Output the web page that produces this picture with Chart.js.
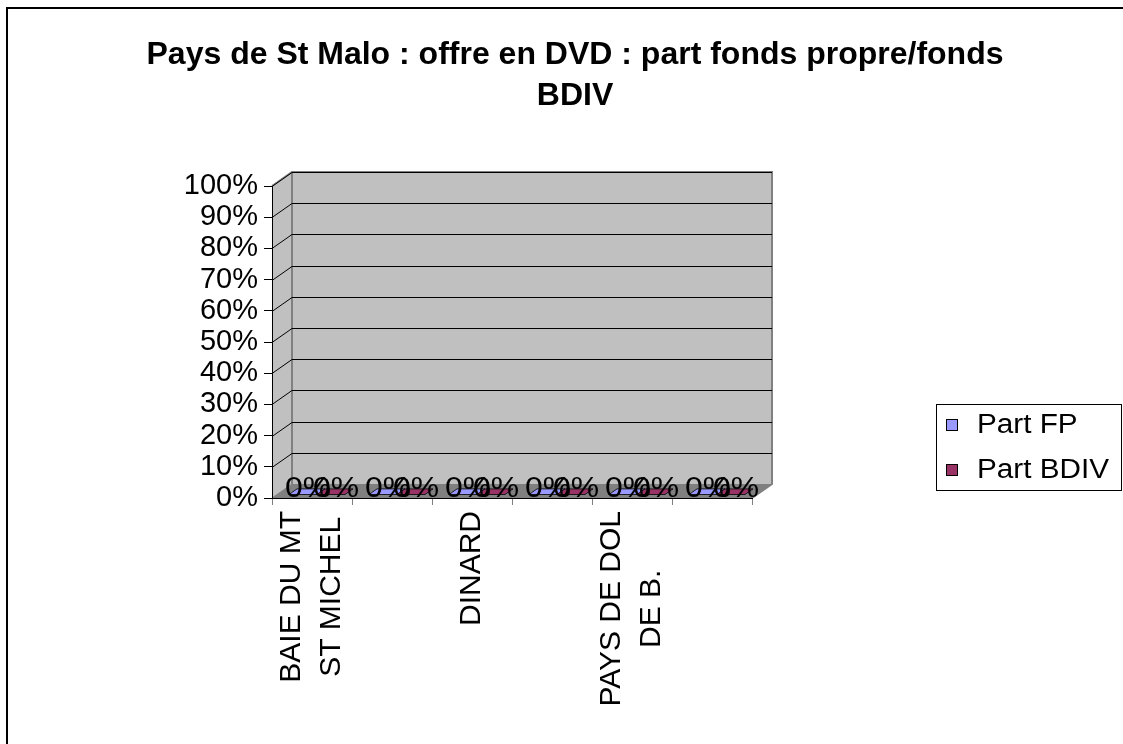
<!DOCTYPE html>
<html><head><meta charset="utf-8">
<script src="https://cdn.jsdelivr.net/npm/chart.js@4.4.0/dist/chart.umd.min.js"></script>
<style>html,body{margin:0;padding:0;background:#fff;overflow:hidden}canvas{display:block}</style>
</head><body>
<canvas id="c" width="1123" height="744"></canvas>
<script>
const titleLines = ['Pays de St Malo : offre en DVD : part fonds propre/fonds', 'BDIV'];
const categories = [['BAIE DU MT', 'ST MICHEL'], [''], ['DINARD'], [''], ['PAYS DE DOL', 'DE B.'], ['']];
const seriesNames = ['Part FP', 'Part BDIV'];
const partFP = [0, 0, 0, 0, 0, 0];
const partBDIV = [0, 0, 0, 0, 0, 0];
const yTickLabels = ['0%', '10%', '20%', '30%', '40%', '50%', '60%', '70%', '80%', '90%', '100%'];
const seriesColors = ['#9999ff', '#993366'];

const FONT = '"Liberation Sans", Arial, sans-serif';
const DX = 20, DY = 14;

function wideText(ctx, t, x, y, sx) {
  ctx.save();
  ctx.translate(x, y);
  ctx.scale(sx, 1);
  ctx.fillText(t, 0, 0);
  ctx.restore();
}

const threeD = {
  id: 'threeD',
  beforeDraw(chart) {
    const {ctx, chartArea: a, scales: {y}} = chart;
    ctx.save();
    ctx.fillStyle = '#fff';
    ctx.fillRect(0, 0, chart.width, chart.height);
    ctx.fillStyle = '#c0c0c0';
    ctx.fillRect(a.left + DX, a.top - DY, a.width, a.height);
    ctx.beginPath();
    ctx.moveTo(a.left, a.top); ctx.lineTo(a.left + DX, a.top - DY);
    ctx.lineTo(a.left + DX, a.bottom - DY); ctx.lineTo(a.left, a.bottom); ctx.closePath();
    ctx.fill();
    ctx.fillStyle = '#808080';
    ctx.beginPath();
    ctx.moveTo(a.left, a.bottom); ctx.lineTo(a.left + DX, a.bottom - DY);
    ctx.lineTo(a.right + DX, a.bottom - DY); ctx.lineTo(a.right, a.bottom); ctx.closePath();
    ctx.fill();
    ctx.strokeStyle = '#808080';
    ctx.lineWidth = 2;
    ctx.beginPath();
    ctx.moveTo(a.left, a.top); ctx.lineTo(a.left + DX, a.top - DY);
    ctx.lineTo(a.right + DX, a.top - DY); ctx.lineTo(a.right + DX, a.bottom - DY);
    ctx.lineTo(a.right, a.bottom);
    ctx.moveTo(a.left + DX, a.top - DY); ctx.lineTo(a.left + DX, a.bottom - DY);
    ctx.stroke();
    ctx.lineWidth = 1;
    ctx.beginPath();
    ctx.moveTo(a.left, a.bottom); ctx.lineTo(a.left + DX, a.bottom - DY);
    ctx.stroke();
    ctx.strokeStyle = '#000';
    ctx.lineWidth = 1;
    ctx.beginPath();
    y.ticks.forEach(t => {
      if (t.value === 0) return;
      const yy = Math.round(y.getPixelForValue(t.value)) + 0.5;
      ctx.moveTo(a.left, yy);
      ctx.lineTo(a.left + DX, yy - DY);
      ctx.lineTo(a.right + DX, yy - DY);
    });
    ctx.stroke();
    ctx.restore();
  },
  afterDatasetsDraw(chart) {
    const {ctx} = chart;
    ctx.save();
    const f1 = 0.25, f2 = 0.65;
    const labels = [];
    chart.data.datasets.forEach((ds, i) => {
      const meta = chart.getDatasetMeta(i);
      meta.data.forEach((el, j) => {
        const x0 = el.x - el.width / 2, x1 = el.x + el.width / 2, yb = el.y;
        ctx.beginPath();
        ctx.moveTo(x0 + DX * f1, yb - DY * f1);
        ctx.lineTo(x1 + DX * f1, yb - DY * f1);
        ctx.lineTo(x1 + DX * f2, yb - DY * f2);
        ctx.lineTo(x0 + DX * f2, yb - DY * f2);
        ctx.closePath();
        ctx.fillStyle = ds.backgroundColor;
        ctx.fill();
        ctx.strokeStyle = '#000';
        ctx.lineWidth = 0.8;
        ctx.stroke();
        labels.push({x: el.x + DX * 0.5, y: yb - 1, t: ds.data[j] + '%'});
      });
    });
    ctx.fillStyle = '#000';
    ctx.font = '29px ' + FONT;
    ctx.textAlign = 'center';
    ctx.textBaseline = 'alphabetic';
    labels.forEach(l => wideText(ctx, l.t, l.x, l.y, 1.1));
    ctx.restore();
  },
  afterDraw(chart) {
    const {ctx, scales: {x}} = chart;
    ctx.save();
    ctx.fillStyle = '#000';
    ctx.font = 'bold 32px ' + FONT;
    ctx.textAlign = 'center';
    ctx.textBaseline = 'alphabetic';
    ctx.fillText(titleLines[0], 575, 64);
    ctx.fillText(titleLines[1], 575, 105);
    ctx.font = '30px ' + FONT;
    ctx.textBaseline = 'middle';
    ctx.textAlign = 'center';
    categories.forEach((lines, i) => {
      const cx = x.getPixelForValue(i);
      const maxW = Math.max(...lines.map(l => ctx.measureText(l).width));
      const cy = 511 + maxW / 2;
      const gap = 40;
      lines.forEach((ln, k) => {
        const lx = cx + (k - (lines.length - 1) / 2) * gap;
        ctx.save();
        ctx.translate(lx, cy);
        ctx.rotate(-Math.PI / 2);
        ctx.fillText(ln, 0, 0);
        ctx.restore();
      });
    });
    ctx.strokeStyle = '#000';
    ctx.lineWidth = 1;
    ctx.strokeRect(936.5, 404.5, 185, 86);
    ctx.font = '27px ' + FONT;
    ctx.textAlign = 'left';
    ctx.textBaseline = 'middle';
    seriesNames.forEach((n, i) => {
      const yy = 425 + i * 45;
      ctx.fillStyle = seriesColors[i];
      ctx.fillRect(946.5, yy - 5.5, 11, 11);
      ctx.strokeRect(946.5, yy - 5.5, 11, 11);
      ctx.fillStyle = '#000';
      wideText(ctx, n, 977, yy + 1, 1.1);
    });
    ctx.lineWidth = 2;
    ctx.beginPath();
    ctx.moveTo(7, 744); ctx.lineTo(7, 8); ctx.lineTo(1123, 8);
    ctx.stroke();
    ctx.restore();
  }
};

new Chart(document.getElementById('c'), {
  type: 'bar',
  data: {
    labels: categories,
    datasets: [
      {label: seriesNames[0], data: partFP, backgroundColor: seriesColors[0], borderWidth: 0},
      {label: seriesNames[1], data: partBDIV, backgroundColor: seriesColors[1], borderWidth: 0}
    ]
  },
  options: {
    responsive: false,
    devicePixelRatio: 1,
    animation: false,
    events: [],
    layout: {padding: {left: 172, right: 371, top: 186, bottom: 236}},
    datasets: {bar: {categoryPercentage: 0.7, barPercentage: 1.0}},
    plugins: {legend: {display: false}, title: {display: false}, tooltip: {enabled: false}},
    scales: {
      x: {
        grid: {offset: true, drawOnChartArea: false, drawTicks: true, tickLength: 7, color: '#808080'},
        border: {display: true, color: '#000', width: 1},
        ticks: {display: false},
        afterFit(s) { s.height = 10; }
      },
      y: {
        min: 0, max: 100,
        grid: {drawOnChartArea: false, drawTicks: true, tickLength: 8, color: '#000'},
        border: {display: true, color: '#000', width: 1},
        ticks: {
          stepSize: 10, padding: 6, color: '#000', autoSkip: false,
          font: {family: FONT, size: 29},
          callback: (v, i) => yTickLabels[i]
        },
        afterFit(s) { s.width = 100; }
      }
    }
  },
  plugins: [threeD]
});
</script>
</body></html>
